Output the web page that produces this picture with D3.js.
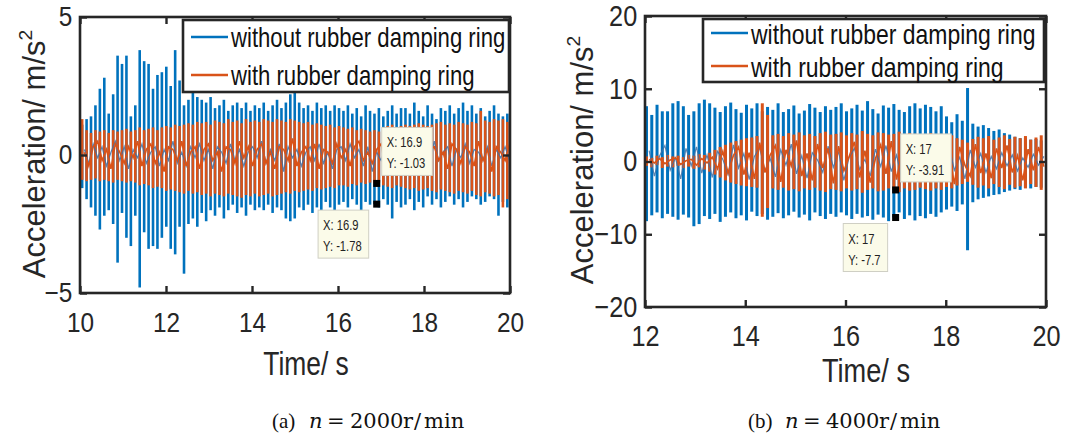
<!DOCTYPE html>
<html>
<head>
<meta charset="utf-8">
<script src="https://cdn.jsdelivr.net/npm/d3@7"></script>
<style>
body { margin: 0; background: #fff; }
svg { display: block; }
</style>
</head>
<body>
<svg id="chart" width="1089" height="436"></svg>
<script>
// ---- data ----
var seriesNames = ["without rubber damping ring", "with rubber damping ring"];
var seriesColors = ["#0072BD", "#D95319"];

// (a) n = 2000 r/min, one spike burst per rotation, sampled from 10.05 s
var leftTimeStart = 10.05, leftTimeStep = 0.103;
var leftXTicks = [10, 12, 14, 16, 18, 20];
var leftYTicks = [-5, 0, 5];

var blueHiL = [1.1,1.3,1.4,1.8,2.4,2.8,1.5,2.2,3.6,3.3,
  3.6,1.4,1.8,3.8,3.4,3.3,2.4,2.9,3.0,3.2,
  2.5,3.8,2.7,1.8,2.0,2.4,2.1,2.0,1.9,2.1,
  1.7,1.8,2.0,1.6,1.8,1.9,1.7,1.9,1.6,1.8,
  1.7,1.9,1.6,1.8,2.0,1.7,1.9,2.2,2.3,1.9,
  1.7,1.8,1.6,1.9,1.7,1.8,1.6,1.8,1.7,1.6,
  1.8,1.5,1.7,1.4,1.8,1.6,1.5,1.7,1.4,1.6,
  1.8,1.5,1.7,1.7,1.5,1.9,1.6,1.4,1.8,1.5,
  1.3,1.7,1.6,1.8,1.5,1.7,1.9,1.6,1.8,1.5,
  1.7,1.4,1.6,1.8,1.5,1.4,1.5];
var blueLoL = [-1.2,-1.6,-1.9,-2.2,-2.7,-2.2,-2.0,-2.5,-3.9,-2.1,
  -3.0,-3.3,-2.2,-4.8,-2.8,-3.4,-3.3,-3.4,-3.0,-2.6,
  -3.4,-3.6,-2.6,-4.3,-2.5,-2.3,-2.6,-2.1,-2.4,-2.0,
  -2.2,-1.9,-2.3,-2.0,-1.8,-2.1,-1.9,-2.2,-1.8,-2.0,
  -1.9,-2.0,-1.8,-2.1,-1.9,-2.0,-2.3,-2.4,-2.3,-1.9,
  -2.0,-1.8,-2.1,-1.9,-2.0,-1.7,-1.9,-2.0,-1.8,-1.7,
  -1.9,-1.6,-1.8,-2.0,-1.7,-1.8,-1.78,-1.9,-1.6,-1.8,
  -2.3,-1.7,-1.9,-1.8,-1.6,-2.0,-1.7,-1.9,-1.5,-1.8,
  -1.6,-1.9,-1.7,-1.5,-1.8,-1.6,-1.9,-1.7,-1.5,-1.6,
  -1.8,-1.7,-1.5,-1.6,-2.2,-1.7,-1.9];
var blueMidL = [0.2,-0.3,0.4,-0.1,0.3,-0.4,0.1,0.5,-0.2,0.3,
  -0.5,0.2,-0.1,0.4,-0.3,0.1,0.3,-0.4,0.2,-0.2,
  0.5,-0.3,0.1,-0.4,0.3,-0.1,0.4,-0.2,0.2,-0.5,
  0.3,0.1,-0.3,0.4,-0.2,0.2,-0.4,0.1,0.3,-0.1,
  0.5,-0.3,0.2,-0.2,0.4,-0.6,0.3,-0.1,0.2,-0.4,
  0.1,0.3,-0.2,0.4,-0.3,0.1,-0.5,0.2,0.3,-0.2,
  0.4,-0.1,0.2,-0.4,0.3,-0.6,0.1,-0.2,0.3,-0.3,
  0.2,0.4,-0.2,0.1,-0.4,0.3,-0.1,0.2,-0.3,0.5,
  -0.2,0.1,0.3,-0.4,0.2,-0.1,0.4,-0.3,0.2,0.1,
  -0.2,0.3,-0.4,0.2,-0.1,0.3,-0.2];
var orangeHiL = [1.3,0.9,0.8,0.9,0.85,0.9,0.8,0.9,0.85,0.9,
  0.95,0.85,0.9,1.0,0.9,0.95,1.0,0.9,1.0,1.05,
  1.0,1.1,1.05,1.1,1.15,1.1,1.2,1.15,1.2,1.1,
  1.25,1.2,1.15,1.3,1.2,1.25,1.15,1.3,1.2,1.25,
  1.2,1.3,1.25,1.2,1.3,1.25,1.2,1.3,1.25,1.2,
  1.15,1.2,1.1,1.15,1.1,1.05,1.1,1.0,1.05,1.0,
  0.95,1.0,0.9,0.95,0.9,0.85,0.9,0.85,1.0,1.05,
  1.1,1.0,1.05,1.1,1.05,1.1,1.15,1.1,1.05,1.1,
  1.15,1.2,1.1,1.15,1.1,1.2,1.15,1.1,1.2,1.15,
  1.6,1.25,1.2,1.3,1.25,1.3,1.2];
var orangeLoL = [-0.9,-0.95,-0.9,-0.85,-0.95,-0.9,-0.95,-1.0,-0.9,-0.95,
  -1.0,-0.95,-1.0,-1.1,-1.05,-1.1,-1.2,-1.15,-1.2,-1.3,
  -1.25,-1.3,-1.35,-1.4,-1.3,-1.4,-1.35,-1.45,-1.4,-1.5,
  -1.4,-1.45,-1.5,-1.4,-1.45,-1.5,-1.55,-1.45,-1.5,-1.4,
  -1.5,-1.45,-1.4,-1.5,-1.45,-1.4,-1.35,-1.4,-1.3,-1.35,
  -1.3,-1.25,-1.3,-1.2,-1.25,-1.2,-1.15,-1.2,-1.1,-1.1,
  -1.15,-1.05,-1.1,-1.0,-1.05,-1.0,-1.03,-1.0,-1.1,-1.15,
  -1.2,-1.1,-1.15,-1.2,-1.25,-1.2,-1.3,-1.25,-1.2,-1.3,
  -1.35,-1.25,-1.3,-1.35,-1.4,-1.3,-1.35,-1.4,-1.3,-1.45,
  -1.5,-1.35,-1.4,-1.5,-1.45,-1.9,-1.6];
var orangeMidL = [0.1,-0.4,0.3,0.5,-0.2,0.2,-0.5,0.4,0.1,-0.3,
  0.3,-0.1,0.5,-0.4,0.2,0.4,-0.3,0.1,-0.6,0.3,
  0.2,-0.2,0.5,-0.4,0.1,0.3,-0.5,0.2,0.4,-0.2,
  0.1,-0.6,0.3,0.2,-0.3,0.5,-0.1,0.3,-0.4,0.2,
  0.4,-0.3,0.1,-0.5,0.3,0.2,-0.2,0.6,-0.4,0.1,
  0.3,-0.2,0.4,-0.5,0.2,0.1,-0.3,0.4,-0.1,0.2,
  -0.4,0.3,0.5,-0.2,0.1,-0.3,0.2,0.4,-0.5,0.1,
  0.3,-0.2,0.4,-0.3,0.2,-0.1,0.5,-0.4,0.2,0.3,
  -0.2,0.1,-0.5,0.4,0.2,-0.3,0.3,0.1,-0.4,0.5,
  -0.2,0.2,-0.6,0.3,0.1,-0.2,0.4];
var leftTipX = 16.9;
var leftTipY = [-1.03, -1.78];

// (b) n = 4000 r/min
var rightTimeStart = 12.03, rightTimeStep = 0.105;
var rightXTicks = [12, 14, 16, 18, 20];
var rightYTicks = [-20, -10, 0, 10, 20];

var blueHiR = [7.6,6.4,7.8,6.9,6.9,8.0,8.3,7.6,6.4,6.9,
  8.0,8.5,8.0,7.4,6.8,7.6,8.1,7.2,6.7,7.8,
  7.3,8.0,6.9,7.5,7.1,8.0,6.8,7.2,7.7,6.6,
  7.0,7.9,7.4,6.8,7.6,7.1,7.5,8.0,6.9,7.3,
  7.8,7.0,8.3,7.2,6.6,7.7,7.4,7.9,7.1,6.8,
  7.6,8.0,7.3,7.8,7.5,6.9,7.6,6.2,5.4,6.5,
  5.6,10.1,5.2,4.8,5.0,4.6,4.2,4.4,3.9,3.7,
  3.4,3.2,3.3,3.0,3.1,2.9];
var blueLoR = [-8.2,-7.4,-7.0,-7.8,-7.2,-7.6,-8.0,-7.3,-7.7,-8.9,
  -8.6,-7.5,-7.9,-7.2,-8.3,-7.6,-7.0,-7.8,-7.4,-8.1,
  -6.9,-7.5,-7.2,-8.0,-7.6,-7.1,-7.8,-7.4,-6.9,-7.7,
  -7.3,-8.1,-7.0,-7.5,-7.9,-7.2,-7.6,-7.0,-7.4,-7.9,
  -7.2,-7.7,-7.5,-8.0,-7.3,-7.7,-8.2,-7.7,-7.0,-7.9,
  -7.4,-8.1,-7.5,-7.8,-7.2,-7.6,-7.0,-6.6,-6.2,-6.8,
  -5.9,-12.2,-5.6,-5.2,-5.0,-4.8,-4.6,-4.5,-4.2,-4.0,
  -3.8,-3.9,-3.6,-3.7,-3.5,-3.6];
var blueMidR = [1.5,-2.0,0.8,2.2,-1.2,0.5,-2.4,1.8,-0.6,2.0,
  -1.6,0.9,-2.2,1.4,0.3,-1.8,2.3,-0.9,1.1,-2.5,
  0.7,1.9,-1.3,0.4,-2.1,1.6,-0.5,2.4,-1.7,0.8,
  -2.3,1.2,0.2,-1.5,2.1,-0.8,1.4,-2.6,0.6,1.8,
  -1.1,0.3,-2.0,1.7,-0.7,2.2,-1.4,0.9,-2.3,1.3,
  -0.4,1.9,-1.8,0.5,-2.1,1.5,-0.9,2.0,-1.2,0.6,
  -2.4,1.6,-0.8,1.1,-1.5,0.7,-1.0,1.2,-0.6,0.9,
  -1.3,0.5,-0.8,1.0,-0.5,0.7];
var orangeHiR = [0.7,0.5,0.8,0.6,0.9,0.7,0.8,0.6,0.9,0.8,
  1.0,0.9,1.2,1.6,2.0,2.3,2.6,2.8,3.0,3.2,
  3.3,3.5,8.0,6.4,3.6,3.8,3.5,3.9,3.7,4.0,
  3.6,3.8,3.5,3.9,4.1,3.7,3.8,4.0,3.6,3.9,
  3.7,4.2,3.8,3.6,4.0,3.9,3.7,3.8,4.1,3.6,
  3.9,3.8,3.5,3.7,3.9,3.6,3.8,3.4,3.6,3.2,
  3.0,2.6,3.1,3.4,3.2,3.5,3.0,3.3,3.6,3.1,
  3.4,3.2,3.5,3.0,3.3,3.6];
var orangeLoR = [-0.6,-0.8,-0.5,-0.9,-0.7,-0.8,-0.6,-0.9,-0.7,-1.0,
  -0.8,-1.1,-1.4,-1.8,-2.2,-2.6,-2.9,-3.1,-3.3,-3.4,
  -3.5,-3.6,-7.6,-6.4,-3.7,-3.9,-3.6,-4.0,-3.8,-4.1,
  -3.7,-3.9,-3.6,-4.0,-4.2,-3.8,-3.9,-4.1,-3.7,-4.0,
  -3.8,-4.3,-3.9,-3.7,-4.1,-4.0,-3.7,-3.91,-4.2,-3.7,
  -4.0,-3.9,-3.6,-3.8,-4.0,-3.7,-3.9,-3.5,-3.7,-3.3,
  -3.1,-2.8,-3.2,-3.6,-3.3,-3.7,-3.1,-3.5,-3.8,-3.2,
  -3.6,-3.4,-3.7,-3.1,-3.5,-3.9];
var orangeMidR = [0.3,-0.2,0.4,-0.3,0.2,0.5,-0.4,0.1,0.3,-0.5,
  0.4,-0.2,0.6,-1.0,1.4,-1.6,0.8,2.0,-1.8,1.2,
  -2.4,2.6,-1.5,0.9,2.2,-2.8,1.6,-0.6,2.9,-2.0,
  1.1,-2.6,2.4,-0.9,1.8,-3.0,2.1,-1.3,0.7,2.7,
  -2.2,1.5,-2.9,0.4,2.3,-1.7,2.8,-2.5,1.0,-0.8,
  2.5,-2.7,1.9,-1.4,0.6,2.6,-2.1,1.3,-3.1,2.0,
  -0.5,-2.0,2.4,-1.6,1.1,-2.3,1.8,-0.9,2.2,-1.5,
  0.8,-2.6,1.7,-1.2,2.0,-0.7];
var rightTipX = 17;
var rightTipY = [-3.91, -7.7];

var captionTags = ["(a)", "(b)"];
var captionSpeeds = ["2000", "4000"];

// ---- drawing ----
var svg = d3.select("#chart");
var ink = "#262626";
var sans = "'Liberation Sans', Arial, Helvetica, sans-serif";

function drawPanel(p)
{
  var x = d3.scaleLinear().domain(p.xDomain).range([p.left, p.right]);
  var y = d3.scaleLinear().domain(p.yDomain).range([p.bottom, p.top]);
  var g = svg.append("g");

  var series = [
    {hi: p.blueHi, lo: p.blueLo, mid: p.blueMid, color: seriesColors[0]},
    {hi: p.orangeHi, lo: p.orangeLo, mid: p.orangeMid, color: seriesColors[1]}
  ];

  series.forEach(function(s)
  {
    var n = Math.min(s.hi.length, s.lo.length);
    g.append("g").selectAll("line")
      .data(d3.range(n))
      .join("line")
      .attr("x1", function(i) { return x(p.t0 + i * p.dt); })
      .attr("x2", function(i) { return x(p.t0 + i * p.dt); })
      .attr("y1", function(i) { return y(s.hi[i]); })
      .attr("y2", function(i) { return y(s.lo[i]); })
      .attr("stroke", s.color)
      .attr("stroke-width", p.barW);
  });

  // thin wandering trace between the bursts
  var zig = d3.line()
    .x(function(d, i) { return x(p.t0 + (i + 0.5) * p.dt); })
    .y(function(d) { return y(d); });
  g.append("path").attr("d", zig(series[0].mid))
    .attr("fill", "none").attr("stroke", "#3f6fa3").attr("stroke-opacity", 0.85).attr("stroke-width", 1.2);
  g.append("path").attr("d", zig(series[1].mid))
    .attr("fill", "none").attr("stroke", seriesColors[1]).attr("stroke-width", 1.6);

  // axes (ticks point inward, labels outside)
  var tickStyle = function(a)
  {
    a.select(".domain").remove();
    a.selectAll(".tick line").attr("stroke", ink).attr("stroke-width", 2.4);
    a.selectAll(".tick text")
      .attr("fill", ink)
      .attr("font-family", sans)
      .attr("font-size", p.tickFont)
      .attr("transform", "scale(0.87,1)");
  };
  g.append("g").attr("transform", "translate(0," + p.bottom + ")")
    .call(d3.axisBottom(x).tickValues(p.xTicks).tickSizeInner(-7).tickSizeOuter(0).tickPadding(p.xPad).tickFormat(d3.format("d")))
    .call(tickStyle);
  g.append("g").attr("transform", "translate(0," + p.top + ")")
    .call(d3.axisTop(x).tickValues(p.xTicks).tickSizeInner(-7).tickSizeOuter(0).tickFormat(""))
    .call(tickStyle);
  g.append("g").attr("transform", "translate(" + p.left + ",0)")
    .call(d3.axisLeft(y).tickValues(p.yTicks).tickSizeInner(-7).tickSizeOuter(0).tickPadding(p.yPad).tickFormat(d3.format("d")))
    .call(tickStyle);
  g.append("g").attr("transform", "translate(" + p.right + ",0)")
    .call(d3.axisRight(y).tickValues(p.yTicks).tickSizeInner(-7).tickSizeOuter(0).tickFormat(""))
    .call(tickStyle);

  g.append("rect")
    .attr("x", p.left).attr("y", p.top)
    .attr("width", p.right - p.left).attr("height", p.bottom - p.top)
    .attr("fill", "none").attr("stroke", ink).attr("stroke-width", 2.6);

  // axis titles
  var yl = g.append("text")
    .attr("transform", "translate(" + p.yLabelX + "," + p.yLabelY + ") rotate(-90)")
    .attr("text-anchor", "middle")
    .attr("font-family", sans).attr("font-size", p.labelFont).attr("fill", ink)
    .text("Acceleration/ m/s");
  yl.append("tspan").attr("font-size", p.labelFont * 0.62).attr("dy", -p.labelFont * 0.42).text("2");

  g.append("text")
    .attr("transform", "translate(" + p.xLabelX + "," + p.xLabelY + ") scale(0.8,1)")
    .attr("text-anchor", "middle")
    .attr("font-family", sans).attr("font-size", p.xLabelFont).attr("fill", ink)
    .text("Time/ s");

  // legend
  var lg = p.legend;
  g.append("rect")
    .attr("x", lg.x).attr("y", lg.y).attr("width", lg.w).attr("height", lg.h)
    .attr("fill", "#fff").attr("stroke", ink).attr("stroke-width", 2.6);
  seriesNames.forEach(function(name, k)
  {
    var ly = lg.rows[k];
    g.append("line")
      .attr("x1", lg.x + 8).attr("x2", lg.x + 45)
      .attr("y1", ly).attr("y2", ly)
      .attr("stroke", seriesColors[k]).attr("stroke-width", 2.6);
    g.append("text")
      .attr("transform", "translate(" + (lg.x + 48) + "," + (ly + lg.baseOff) + ") scale(0.82,1)")
      .attr("font-family", sans).attr("font-size", lg.font).attr("fill", "#111")
      .text(name);
  });

  // data tips
  p.tipY.forEach(function(v, k)
  {
    var px = x(p.tipX), py = y(v);
    var lines = ["X: " + p.tipX, "Y: " + v];
    var tg = g.append("g");
    var box = tg.append("rect").attr("fill", "#fbfbe9").attr("stroke", "#cfcfc4").attr("stroke-width", 1);
    var tw = 0;
    lines.forEach(function(s, j)
    {
      var t = tg.append("text")
        .attr("font-family", sans).attr("font-size", 14).attr("fill", "#222")
        .attr("data-row", j)
        .text(s);
      tw = Math.max(tw, t.node().getComputedTextLength() * 0.8);
    });
    var w = tw + 12, h = 48;
    var bx = k === 0 ? px + 5 : px - 8 - w;
    var by = k === 0 ? py - 8 - h : py + 6;
    box.attr("x", bx).attr("y", by).attr("width", w).attr("height", h);
    tg.selectAll("text").attr("transform", function()
    {
      var j = +this.getAttribute("data-row");
      return "translate(" + (bx + 5) + "," + (by + 20 + j * 21) + ") scale(0.8,1)";
    });
    g.append("rect")
      .attr("x", px - 3.5).attr("y", py - 3.5).attr("width", 7).attr("height", 7)
      .attr("fill", "#000");
  });
}

drawPanel({
  xDomain: [10, 20], yDomain: [-5, 5],
  left: 80, right: 510, top: 17, bottom: 293,
  t0: leftTimeStart, dt: leftTimeStep, barW: 2.6,
  blueHi: blueHiL, blueLo: blueLoL, blueMid: blueMidL,
  orangeHi: orangeHiL, orangeLo: orangeLoL, orangeMid: orangeMidL,
  xTicks: leftXTicks, yTicks: leftYTicks,
  tickFont: 28, xPad: 19, yPad: 9,
  labelFont: 31, xLabelFont: 33, yLabelX: 45, yLabelY: 154, xLabelX: 306, xLabelY: 375,
  legend: {x: 183, y: 20, w: 326, h: 72, rows: [37, 75], baseOff: 10, font: 27},
  tipX: leftTipX, tipY: leftTipY
});

drawPanel({
  xDomain: [12, 20], yDomain: [-20, 20],
  left: 645, right: 1046, top: 16, bottom: 307,
  t0: rightTimeStart, dt: rightTimeStep, barW: 3,
  blueHi: blueHiR, blueLo: blueLoR, blueMid: blueMidR,
  orangeHi: orangeHiR, orangeLo: orangeLoR, orangeMid: orangeMidR,
  xTicks: rightXTicks, yTicks: rightYTicks,
  tickFont: 29, xPad: 18, yPad: 9,
  labelFont: 31, xLabelFont: 34, yLabelX: 593, yLabelY: 160, xLabelX: 866, xLabelY: 382,
  legend: {x: 703, y: 19, w: 341, h: 63, rows: [33, 66], baseOff: 11, font: 28},
  tipX: rightTipX, tipY: rightTipY
});

// captions under the panels: "(a)  n = 2000r/min"
var serif = "'DejaVu Serif', 'Liberation Serif', serif";
var capStarts = [272, 748];
captionTags.forEach(function(tag, k)
{
  var s = capStarts[k], base = 428;
  var cg = svg.append("g").attr("font-family", serif).attr("font-size", 21).attr("fill", "#111");
  cg.append("text").attr("x", s).attr("y", base).attr("font-family", "'Liberation Serif', serif").text(tag);
  cg.append("text").attr("x", s + 37).attr("y", base).attr("font-style", "italic").text("n");
  cg.append("text").attr("x", s + 55).attr("y", base).text("=");
  cg.append("text").attr("x", s + 78).attr("y", base).text(captionSpeeds[k]);
  cg.append("text").attr("x", s + 131).attr("y", base).text("r");
  cg.append("text").attr("x", s + 142).attr("y", base).text("/");
  cg.append("text").attr("x", s + 152).attr("y", base).text("min");
});
</script>
</body>
</html>
